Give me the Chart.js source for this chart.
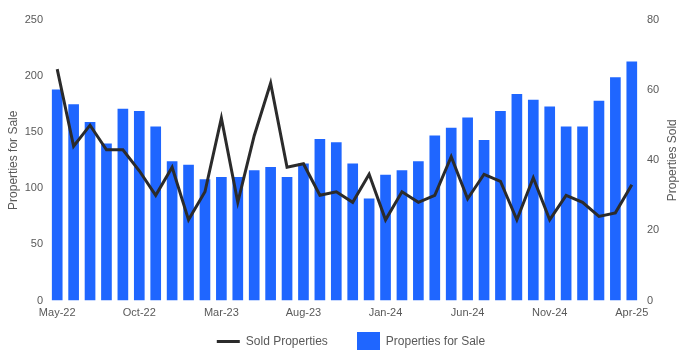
<!DOCTYPE html>
<html>
<head>
<meta charset="utf-8">
<title>Properties for Sale vs Sold</title>
<script src="https://cdn.jsdelivr.net/npm/chart.js@4.4.1/dist/chart.umd.min.js"></script>
<style>
  html, body { margin: 0; padding: 0; background: #ffffff; }
</style>
</head>
<body>
<canvas id="salesChart" width="700" height="350"></canvas>
<script>
// monthly data, May-22 to Apr-25
const months = ["May-22", "Jun-22", "Jul-22", "Aug-22", "Sep-22", "Oct-22", "Nov-22", "Dec-22",
  "Jan-23", "Feb-23", "Mar-23", "Apr-23", "May-23", "Jun-23", "Jul-23", "Aug-23", "Sep-23", "Oct-23", "Nov-23", "Dec-23",
  "Jan-24", "Feb-24", "Mar-24", "Apr-24", "May-24", "Jun-24", "Jul-24", "Aug-24", "Sep-24", "Oct-24", "Nov-24", "Dec-24",
  "Jan-25", "Feb-25", "Mar-25", "Apr-25"];
const forSale = [188, 175, 159, 140, 171, 169, 155, 124, 121, 108, 110, 110, 116, 119, 110, 122, 144, 141, 122, 91,
  112, 116, 124, 147, 154, 163, 143, 169, 184, 179, 173, 155, 155, 178, 199, 213];
const sold = [66, 44, 50, 43, 43, 37, 30, 38, 23, 31, 52, 28, 47, 62, 38, 39, 30, 31, 28, 36,
  23, 31, 28, 30, 41, 29, 36, 34, 23, 35, 23, 30, 28, 24, 25, 33];
const saleTicks = [0, 50, 100, 150, 200, 250];
const soldTicks = [0, 20, 40, 60, 80];

const barColor = "#1f66ff";
const lineColor = "#2b2b2b";
const textColor = "#595959";

Chart.defaults.font.family = '"Liberation Sans", Arial, sans-serif';
Chart.defaults.color = textColor;

// square swatch for the bar entry in the legend
const barSwatch = document.createElement("canvas");
barSwatch.width = 23;
barSwatch.height = 20;
const swCtx = barSwatch.getContext("2d");
swCtx.fillStyle = barColor;
swCtx.fillRect(0, 0, 23, 20);

function fixedTicks(list) {
  return function (scale) { scale.ticks = list.map(v => ({ value: v })); };
}

// right axis title reads bottom to top, like the left one
const rightTitle = {
  id: "rightTitle",
  afterDraw(chart) {
    const scale = chart.scales.ySold;
    const ctx = chart.ctx;
    ctx.save();
    ctx.translate(scale.left + 33, (chart.chartArea.top + chart.chartArea.bottom) / 2);
    ctx.rotate(-Math.PI / 2);
    ctx.font = '12px "Liberation Sans", Arial, sans-serif';
    ctx.fillStyle = textColor;
    ctx.textAlign = "center";
    ctx.textBaseline = "middle";
    ctx.fillText("Properties Sold", 0, 0);
    ctx.restore();
  }
};

new Chart("salesChart", {
  data: {
    labels: months,
    datasets: [{
      type: "line",
      label: "Sold Properties",
      data: sold,
      yAxisID: "ySold",
      borderColor: lineColor,
      borderWidth: 3,
      pointRadius: 0,
      tension: 0
    }, {
      type: "bar",
      label: "Properties for Sale",
      data: forSale,
      yAxisID: "ySale",
      backgroundColor: barColor,
      barPercentage: 0.65,
      categoryPercentage: 1
    }]
  },
  plugins: [rightTitle],
  options: {
    responsive: false,
    animation: false,
    layout: { padding: { top: 20, right: 0, left: 2, bottom: -7.5 } },
    plugins: {
      tooltip: { enabled: false },
      legend: {
        position: "bottom",
        labels: {
          usePointStyle: true,
          pointStyleWidth: 23,
          padding: 29,
          font: { size: 12 },
          generateLabels(chart) {
            const items = Chart.defaults.plugins.legend.labels.generateLabels(chart);
            items.forEach(item => {
              if (item.datasetIndex === 0) {
                item.pointStyle = "line";
                item.lineWidth = 3;
                item.strokeStyle = lineColor;
              } else {
                item.pointStyle = barSwatch;
              }
            });
            return items;
          }
        }
      }
    },
    scales: {
      x: {
        offset: true,
        grid: { display: false, drawTicks: false },
        border: { display: false },
        ticks: {
          autoSkip: false,
          maxRotation: 0,
          mirror: true,
          padding: -19,
          font: { size: 11 },
          callback(value, index) { return index % 5 === 0 ? months[index] : null; }
        },
        afterFit(scale) { scale.height = 6; }
      },
      ySale: {
        position: "left",
        min: 0,
        max: 250,
        afterBuildTicks: fixedTicks(saleTicks),
        grid: { display: false, drawTicks: false },
        border: { display: false },
        ticks: { padding: 6, font: { size: 11 } },
        title: { display: true, text: "Properties for Sale", font: { size: 12 } },
        afterFit(scale) { scale.width = 47; }
      },
      ySold: {
        position: "right",
        min: 0,
        max: 80,
        afterBuildTicks: fixedTicks(soldTicks),
        grid: { display: false, drawTicks: false },
        border: { display: false },
        ticks: { padding: 7, font: { size: 11 } },
        afterFit(scale) { scale.width = 60; }
      }
    }
  }
});
</script>
</body>
</html>
